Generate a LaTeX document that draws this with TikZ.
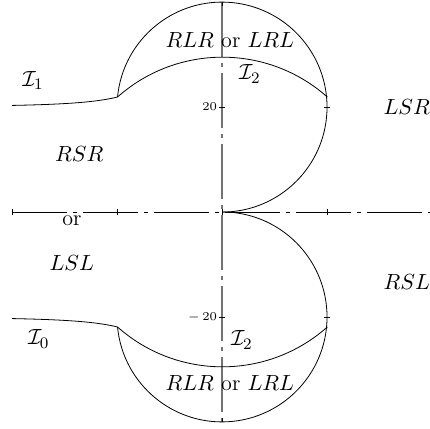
\documentclass[tikz,border=0pt]{standalone}
\usepackage{amsmath, amssymb}
\usepackage{tikz}
\usetikzlibrary{calc}
\definecolor{axisGray}{gray}{0.45}

\begin{document}
\begin{tikzpicture}[x=2.625pt, y=2.625pt, line width=0.4pt,
    dashdot/.style={dash pattern=on 27.5pt off 3pt on 2pt off 3pt},
    lbl/.style={font=\fontsize{11}{13}\selectfont},
    ticklbl/.style={font=\fontsize{6.5}{7}\selectfont, inner sep=1pt}]
    \useasboundingbox (-42.286,-41.333) rectangle (39.619,40.381);
    % axes
    \draw[dashdot] (-40,0) -- (39.619,0);
    \draw[dashdot, axisGray, line width=0.6pt] (0,40) -- (0,-40);
    \foreach \x in {-40,-20,0,20}
      \draw (\x,-0.5) -- (\x,0.5);
    \foreach \s in {1,-1} {
      \draw (-0.5,20*\s) -- (0.5,20*\s);
      \draw (19.5,20*\s) -- (20.5,20*\s);
      \draw (0,39.2*\s) -- (0,40*\s);
    }
    \node[ticklbl, left] (t20) at (-0.5,20) {$20$};
    \node[ticklbl, left] (tm20) at (-0.5,-20) {$-\,20$};
    % upper and lower boundaries
    \foreach \s in {1,-1} {
      \begin{scope}[yscale=\s]
        \coordinate (far) at (-40,20.3);
        \coordinate (join) at (-19.9,21.9);
        \draw (far) .. controls (-30,20.5) and (-24,20.9) .. (join);
        \draw (join) arc[start angle=174.5, end angle=-90, radius=20];
        \draw (join) arc[start angle=131.6, end angle=48.4, radius=30.1];
      \end{scope}
    }
    % labels
    \node[lbl] (iOne) at (-36,25) {$\mathcal{I}_1$};
    \node[lbl] (rlrUp) at (1.5,32.8) {$RLR$ or $LRL$};
    \node[lbl] (iTwoUp) at (5.3,26.3) {$\mathcal{I}_2$};
    \node[lbl] (lsr) at (35.2,20) {$LSR$};
    \node[lbl] (rsr) at (-27.2,11) {$RSR$};
    \node[lbl] (orMid) at (-28.6,-1.7) {or};
    \node[lbl] (lsl) at (-28.6,-9.7) {$LSL$};
    \node[lbl] (rsl) at (35.2,-13.4) {$RSL$};
    \node[lbl] (iZero) at (-34.9,-24.2) {$\mathcal{I}_0$};
    \node[lbl] (iTwoDn) at (3.8,-24.4) {$\mathcal{I}_2$};
    \node[lbl] (rlrDn) at (1.5,-32.6) {$RLR$ or $LRL$};
\end{tikzpicture}
\end{document}
